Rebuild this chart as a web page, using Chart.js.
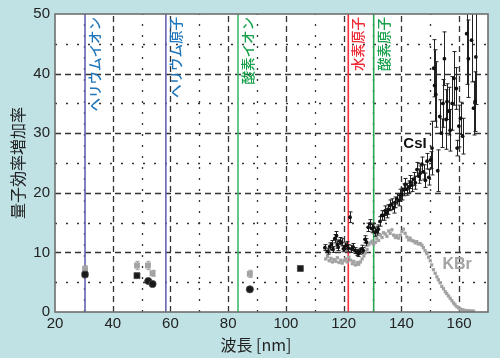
<!DOCTYPE html>
<html><head><meta charset="utf-8">
<script src="https://cdn.jsdelivr.net/npm/chart.js@4"></script>
<style>html,body{margin:0;padding:0;background:#c0e2e5;overflow:hidden}</style>
</head><body>
<canvas id="c" width="500" height="358"></canvas>
<script>
// ---- tick values ----
const xTicks = [20, 40, 60, 80, 100, 120, 140, 160];
const yTicks = [0, 10, 20, 30, 40, 50];
const xMinorGrid = [30, 50, 70, 90, 110, 130, 150, 170];
const yMinorGrid = [5, 15, 25, 35, 45];

// ---- emission lines ----
const lineNames = ['ヘリウムイオン', 'ヘリウム原子', '酸素イオン', '水素原子', '酸素原子'];
const lineWavelengths = [30.4, 58.4, 83.4, 121.6, 130.4];

// ---- CsI (low wavelength, large markers) ----
const csiLowX = [30.4, 48.4, 52.3, 53.8, 87.5, 105.0];
const csiLowY = [6.3, 6.1, 5.2, 4.7, 3.8, 7.3];

// ---- KBr (low wavelength, large markers) ----
const kbrLowX = [30.4, 48.4, 52.2, 53.8, 87.5];
const kbrLowY = [7.2, 7.8, 7.8, 6.5, 6.4];
const kbrLowErr = [0.6, 0.7, 0.7, 0.5, 0.6];

// ---- CsI dense series ----
const csiX = [113.5,114.5,115.2,115.8,116.3,116.9,117.5,117.8,118.1,118.6,119.3,119.9,120.4,121.0,121.6,122.2,122.7,123.3,123.9,124.5,125.1,125.6,126.2,126.8,127.4,127.9,128.5,129.1,129.7,130.3,130.9,131.5,132.0,132.6,133.2,133.8,134.4,135.0,135.5,136.1,136.7,137.3,137.8,138.4,139.0,139.6,140.2,140.8,141.3,141.9,142.5,143.1,143.6,144.2,144.8,145.4,146.0,146.5,147.1,147.7,148.3,148.9,149.5,150.1,
  150.6,151.2,151.5,151.9,152.6,153.3,153.9,154.4,154.9,155.5,155.8,156.4,156.9,157.6,158.2,159.0,159.3,159.9,160.5,161.2,162.6,163.2,164.3,165.0,165.5,165.8];
const csiY = [10.8,10.2,11.0,11.4,10.5,12.3,12.8,11.3,10.9,11.9,11.7,10.6,11.0,11.2,10.7,15.9,10.6,10.9,10.3,10.0,9.8,10.2,10.6,10.3,12.2,11.7,14.2,14.8,14.0,14.2,13.4,13.6,13.9,15.2,16.2,16.2,17.0,16.6,17.2,17.9,18.1,17.5,18.4,19.0,18.7,19.6,19.8,20.5,21.4,20.6,21.0,21.8,21.3,22.3,21.7,23.9,22.8,23.3,24.8,23.5,22.1,25.3,22.6,25.5,
  27.5,40.9,38.0,36.5,23.7,32.8,30.0,35.0,42.5,32.3,35.3,33.7,30.5,35.0,39.2,37.5,27.5,31.2,32.5,29.5,46.7,42.5,45.6,34.2,35.3,42.8];
const csiErr = [0.5,0.5,0.6,0.6,0.5,0.7,0.7,0.6,0.6,0.6,0.6,0.5,0.6,0.6,0.6,0.9,0.6,0.6,0.5,0.5,0.5,0.5,0.6,0.5,0.6,0.6,0.7,0.7,0.7,0.7,0.7,0.7,0.7,0.8,0.8,0.8,0.8,0.8,0.8,0.9,0.9,0.9,0.9,0.9,0.9,1.0,1.0,1.0,1.0,1.0,1.0,1.1,1.1,1.1,1.1,1.2,1.2,1.2,1.2,1.2,1.2,1.3,1.3,1.4,
  4.5,4.8,6.0,5.5,3.5,2.8,2.4,4.0,4.5,5.0,3.0,4.0,3.5,4.5,4.5,3.5,1.3,3.5,2.7,3.0,8.5,6.5,7.0,4.5,5.0,8.0];

// ---- KBr dense series ----
const kbrX = [113.8,114.4,115.0,115.6,116.1,116.7,117.3,117.8,118.4,119.0,119.5,120.1,120.7,121.2,121.8,122.4,123.0,123.5,124.1,124.7,125.2,125.8,126.4,127.0,127.5,128.1,128.7,129.3,129.8,130.4,131.0,131.5,132.1,132.7,133.3,133.8,134.4,135.0,135.6,136.1,136.7,137.3,137.9,138.4,139.0,139.6,140.2,140.7,141.3,141.9,142.5,143.0,143.6,144.2,144.8,145.3,145.9,146.5,147.1,147.6,148.2,148.8,149.4,150.0,150.5,151.1,151.7,152.3,152.8,153.4,154.0,154.6,155.2,155.7,156.3,156.9,157.5,158.1,158.6,159.2,159.8,160.4,161.0,161.5,162.1,162.7,163.3,163.9,164.4,165.0];
const kbrY = [8.9,9.3,8.6,9.0,8.4,8.8,8.5,9.1,8.3,8.7,8.2,8.6,8.9,8.4,9.2,8.7,8.1,8.5,7.9,8.3,8.0,8.4,8.9,9.4,9.9,10.5,11.3,11.6,11.9,11.4,11.7,12.3,12.0,12.9,12.5,13.3,13.1,12.7,13.6,13.2,13.8,12.9,12.5,12.8,12.4,12.9,13.5,13.9,13.2,12.6,12.1,12.4,12.0,11.9,11.6,11.8,11.4,11.5,11.2,10.8,10.3,9.8,9.2,8.6,7.9,7.1,6.5,5.9,5.4,4.9,4.3,3.9,3.4,3.1,2.7,2.3,1.9,1.5,1.2,0.9,0.7,0.5,0.4,0.3,0.25,0.2,0.2,0.15,0.15,0.15];

const toPts = (xs, ys) => xs.map((x, i) => ({x: x, y: ys[i]}));

const FONT = "'Liberation Sans', Arial, sans-serif";
const JFONT = "'Noto Sans CJK JP', sans-serif";
const BG = '#c0e2e5';

const decor = {
  id: 'decor',
  beforeDraw(chart) {
    const {ctx, chartArea: a} = chart;
    ctx.save();
    ctx.fillStyle = BG;
    ctx.fillRect(0, 0, chart.width, chart.height);
    ctx.fillStyle = '#ffffff';
    ctx.fillRect(a.left, a.top, a.right - a.left, a.bottom - a.top);
    ctx.restore();
  },
  beforeDatasetsDraw(chart) {
    const {ctx, chartArea: a, scales: {x, y}} = chart;
    ctx.save();
    ctx.beginPath(); ctx.rect(a.left, a.top, a.right - a.left, a.bottom - a.top); ctx.clip();
    ctx.strokeStyle = '#333333';
    ctx.lineWidth = 1.3;
    // minor dotted
    ctx.setLineDash([2, 9]);
    xMinorGrid.forEach(v => { const p = Math.round(x.getPixelForValue(v)) + 0.5; ctx.beginPath(); ctx.moveTo(p, a.bottom); ctx.lineTo(p, a.top); ctx.stroke(); });
    yMinorGrid.forEach(v => { const p = Math.round(y.getPixelForValue(v)) + 0.5; ctx.beginPath(); ctx.moveTo(a.left, p); ctx.lineTo(a.right, p); ctx.stroke(); });
    // major dashed
    ctx.setLineDash([6, 4]);
    xTicks.forEach(v => { if (v === 20) return; const p = Math.round(x.getPixelForValue(v)) + 0.5; ctx.beginPath(); ctx.moveTo(p, a.bottom); ctx.lineTo(p, a.top); ctx.stroke(); });
    yTicks.forEach(v => { if (v === 0 || v === 50) return; const p = Math.round(y.getPixelForValue(v)) + 0.5; ctx.beginPath(); ctx.moveTo(a.left, p); ctx.lineTo(a.right, p); ctx.stroke(); });
    ctx.setLineDash([]);
    // emission lines
    const lineColors = ['#6464b4', '#6464b4', '#3dba6a', '#ff2d3c', '#2aa552'];
    const textColors = ['#1f76ba', '#1f76ba', '#16a04a', '#ee2a35', '#16a04a'];
    lineWavelengths.forEach((w, i) => {
      const p = x.getPixelForValue(w);
      ctx.strokeStyle = lineColors[i];
      ctx.lineWidth = 1.6;
      ctx.beginPath(); ctx.moveTo(p, a.bottom); ctx.lineTo(p, a.top); ctx.stroke();
      ctx.save();
      ctx.translate(p + 10, a.top + 3);
      ctx.rotate(-Math.PI / 2);
      ctx.fillStyle = textColors[i];
      ctx.font = '500 13.5px ' + JFONT;
      ctx.textAlign = 'right';
      ctx.textBaseline = 'middle';
      ctx.fillText(lineNames[i], 0, 0);
      ctx.restore();
    });
    // error bars
    chart.data.datasets.forEach((ds, di) => {
      if (!ds.errors) return;
      const meta = chart.getDatasetMeta(di);
      ctx.strokeStyle = ds.errColor;
      ctx.lineWidth = 1;
      meta.data.forEach((pt, j) => {
        const e = ds.errors[j];
        const v = ds.data[j].y;
        const px = Math.round(pt.x) + 0.5;
        const y1 = y.getPixelForValue(v + e), y2 = y.getPixelForValue(v - e);
        ctx.beginPath();
        ctx.moveTo(px, y1); ctx.lineTo(px, y2);
        ctx.moveTo(px - 2, y1); ctx.lineTo(px + 2, y1);
        ctx.moveTo(px - 2, y2); ctx.lineTo(px + 2, y2);
        ctx.stroke();
      });
    });
    ctx.restore();
  },
  afterDatasetsDraw(chart) {
    const {ctx, chartArea: a, scales: {x, y}} = chart;
    ctx.save();
    // series labels
    ctx.font = 'bold 15px ' + FONT;
    ctx.fillStyle = '#111';
    ctx.textAlign = 'center'; ctx.textBaseline = 'middle';
    ctx.fillText('CsI', x.getPixelForValue(144.7), y.getPixelForValue(28.2));
    ctx.font = 'bold 16px ' + FONT;
    ctx.fillStyle = '#a3a3a3';
    ctx.fillText('KBr', x.getPixelForValue(159.3), y.getPixelForValue(8));
    // frame
    ctx.strokeStyle = '#6f6f6f';
    ctx.lineWidth = 1.6;
    ctx.strokeRect(a.left, a.top, a.right - a.left, a.bottom - a.top);
    // axis titles
    ctx.fillStyle = '#222';
    ctx.font = '16px ' + JFONT;
    ctx.textAlign = 'center'; ctx.textBaseline = 'middle';
    ctx.fillText('波長 [nm]', 256, 345);
    ctx.translate(18, (a.top + a.bottom) / 2);
    ctx.rotate(-Math.PI / 2);
    ctx.fillText('量子効率増加率', 0, 0);
    ctx.restore();
  }
};

new Chart(document.getElementById('c'), {
  type: 'scatter',
  data: {
    datasets: [
      {label: 'CsI', data: toPts(csiX, csiY), errors: csiErr, errColor: '#222',
       pointRadius: 1.9, pointBackgroundColor: '#111', pointBorderWidth: 0, pointStyle: 'circle'},
      {label: 'CsI low', data: toPts(csiLowX, csiLowY),
       pointRadius: [3.8, 4.2, 3.6, 3.6, 3.6, 4.2], pointStyle: ['rectRounded', 'rect', 'circle', 'circle', 'circle', 'rect'],
       pointBackgroundColor: '#1a1a1a', pointBorderColor: '#444', pointBorderWidth: 0.8},
      {label: 'KBr', data: toPts(kbrX, kbrY), pointRadius: 2.3, pointStyle: 'rect',
       pointBackgroundColor: '#a2a2a2', pointBorderWidth: 0},
      {label: 'KBr low', data: toPts(kbrLowX, kbrLowY), errors: kbrLowErr, errColor: '#a0a0a0',
       pointRadius: 4.2, pointStyle: 'rect', pointBackgroundColor: '#a4a4a4', pointBorderWidth: 0}
    ]
  },
  options: {
    responsive: false, animation: false, devicePixelRatio: 1,
    layout: {padding: {left: 0, right: 12, top: 12, bottom: 0}},
    plugins: {legend: {display: false}, tooltip: {enabled: false}},
    scales: {
      x: {type: 'linear', min: 20, max: 170,
        grid: {display: false, drawTicks: false}, border: {display: false},
        afterBuildTicks: s => { s.ticks = xTicks.map(v => ({value: v})); },
        afterFit: s => { s.height = 46; },
        ticks: {font: {family: FONT, size: 15}, color: '#222', padding: 3, maxRotation: 0, autoSkip: false}},
      y: {type: 'linear', min: 0, max: 50,
        grid: {display: false, drawTicks: false}, border: {display: false},
        afterBuildTicks: s => { s.ticks = yTicks.map(v => ({value: v})); },
        afterFit: s => { s.width = 55; },
        ticks: {font: {family: FONT, size: 15}, color: '#222', padding: 5, autoSkip: false}}
    }
  },
  plugins: [decor]
});
</script>
</body></html>
